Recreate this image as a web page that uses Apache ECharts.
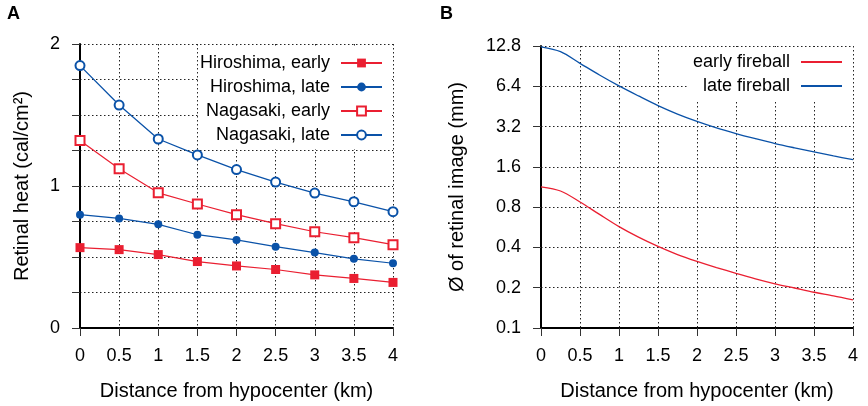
<!DOCTYPE html>
<html>
<head>
<meta charset="utf-8">
<script src="https://cdn.jsdelivr.net/npm/echarts@6/dist/echarts.min.js"></script>
<style>
html,body{margin:0;padding:0;background:#fff;}
#c{width:868px;height:406px;}
</style>
</head>
<body>
<div id="c"></div>
<script>
// Panel A data
const xA = [0, 0.5, 1, 1.5, 2, 2.5, 3, 3.5, 4];
const hiroshimaEarly = [0.566, 0.552, 0.517, 0.468, 0.437, 0.412, 0.374, 0.349, 0.321];
const hiroshimaLate  = [0.798, 0.772, 0.730, 0.657, 0.620, 0.573, 0.531, 0.487, 0.456];
const nagasakiEarly  = [1.321, 1.121, 0.952, 0.873, 0.798, 0.735, 0.678, 0.636, 0.587];
const nagasakiLate   = [1.848, 1.570, 1.331, 1.219, 1.116, 1.028, 0.950, 0.889, 0.819];
const yTicksA = ['0', '1', '2'];

// Panel B data (mm)
const xB = [0, 0.25, 0.5, 0.75, 1, 1.25, 1.5, 1.75, 2, 2.25, 2.5, 2.75, 3, 3.25, 3.5, 3.75, 4];
const earlyFireball = [1.135, 1.056, 0.875, 0.706, 0.572, 0.477, 0.407, 0.354, 0.315, 0.283, 0.256, 0.233, 0.214, 0.199, 0.185, 0.174, 0.162];
const lateFireball  = [12.6, 11.6, 9.50, 7.77, 6.44, 5.42, 4.59, 3.97, 3.50, 3.13, 2.84, 2.60, 2.39, 2.22, 2.07, 1.93, 1.81];
const yTicksB = ['0.1', '0.2', '0.4', '0.8', '1.6', '3.2', '6.4', '12.8'];
const yBaseB = 0.1;

const RED = '#ea1f31';
const BLUE = '#0a52a8';
const FONT = 'Liberation Sans, Arial, Helvetica, sans-serif';

const pairs = (xs, ys) => xs.map((x, i) => [x, ys[i]]);
const log2Pairs = (xs, ys) => xs.map((x, i) => [x, Math.log2(ys[i] / yBaseB)]);

const splitLine = { show: true, lineStyle: { color: '#222', width: 1, type: [1.5, 2.5] } };
const axisLine = { show: true, onZero: false, lineStyle: { color: '#000', width: 2 } };
const axisTick = { show: true, inside: false, length: 8, lineStyle: { color: '#333', width: 1 } };
const labelStyle = { color: '#000', fontSize: 18, fontFamily: FONT };
const nameStyle = { color: '#000', fontSize: 20, fontFamily: FONT };

const chart = echarts.init(document.getElementById('c'), null, { renderer: 'canvas' });

const option = {
  animation: false,
  backgroundColor: '#fff',
  textStyle: { fontFamily: FONT },
  title: [
    { text: 'A', left: 7, top: 5, padding: 0, textStyle: { fontSize: 18, fontWeight: 'bold', color: '#000', fontFamily: FONT } },
    { text: 'B', left: 440, top: 5, padding: 0, textStyle: { fontSize: 18, fontWeight: 'bold', color: '#000', fontFamily: FONT } }
  ],
  grid: [
    { left: 80, top: 44, width: 313, height: 285 },
    { left: 541, top: 46, width: 312, height: 283 }
  ],
  xAxis: [
    {
      type: 'value', gridIndex: 0, min: 0, max: 4, interval: 0.5,
      name: 'Distance from hypocenter (km)', nameLocation: 'middle', nameGap: 53, nameTextStyle: nameStyle,
      axisLine, axisTick, splitLine, axisLabel: Object.assign({ margin: 19 }, labelStyle)
    },
    {
      type: 'value', gridIndex: 1, min: 0, max: 4, interval: 0.5,
      name: 'Distance from hypocenter (km)', nameLocation: 'middle', nameGap: 53, nameTextStyle: nameStyle,
      axisLine, axisTick, splitLine, axisLabel: Object.assign({ margin: 19 }, labelStyle)
    }
  ],
  yAxis: [
    {
      type: 'value', gridIndex: 0, min: 0, max: 2, interval: 0.25,
      name: 'Retinal heat (cal/cm²)', nameLocation: 'middle', nameGap: 48, nameTextStyle: nameStyle,
      axisLine, axisTick, splitLine,
      axisLabel: Object.assign({ margin: 20, formatter: v => (Math.abs(v - Math.round(v)) < 1e-9 ? yTicksA[Math.round(v)] : '') }, labelStyle)
    },
    {
      type: 'value', gridIndex: 1, min: 0, max: yTicksB.length - 1, interval: 1,
      name: 'Ø of retinal image (mm)', nameLocation: 'middle', nameGap: 74, nameTextStyle: nameStyle,
      axisLine, axisTick, splitLine,
      axisLabel: Object.assign({ margin: 20, formatter: v => yTicksB[Math.round(v)] }, labelStyle)
    }
  ],
  legend: [
    {
      data: ['Hiroshima, early', 'Hiroshima, late', 'Nagasaki, early', 'Nagasaki, late'],
      orient: 'vertical', align: 'right', right: 477, top: 47,
      padding: [7, 8, 5, 2], itemGap: 6, itemWidth: 41, itemHeight: 11,
      backgroundColor: '#fff', z: 5,
      textStyle: { color: '#000', fontSize: 18, fontFamily: FONT, padding: [0, 6, 0, 0] }
    },
    {
      data: ['early fireball', 'late fireball'],
      orient: 'vertical', align: 'right', right: 17, top: 47,
      padding: [6, 8, 6, 6], itemGap: 6, itemWidth: 41, itemHeight: 11,
      backgroundColor: '#fff', z: 5,
      itemStyle: { opacity: 0 },
      textStyle: { color: '#000', fontSize: 18, fontFamily: FONT, padding: [0, 6, 0, 0] }
    }
  ],
  series: [
    {
      name: 'Hiroshima, early', type: 'line', xAxisIndex: 0, yAxisIndex: 0,
      data: pairs(xA, hiroshimaEarly), symbol: 'rect', symbolSize: 9,
      lineStyle: { color: RED, width: 1.2 }, itemStyle: { color: RED }, z: 3
    },
    {
      name: 'Hiroshima, late', type: 'line', xAxisIndex: 0, yAxisIndex: 0,
      data: pairs(xA, hiroshimaLate), symbol: 'circle', symbolSize: 8,
      lineStyle: { color: BLUE, width: 1.2 }, itemStyle: { color: BLUE }, z: 3
    },
    {
      name: 'Nagasaki, early', type: 'line', xAxisIndex: 0, yAxisIndex: 0,
      data: pairs(xA, nagasakiEarly), symbol: 'emptyRect', symbolSize: 9,
      lineStyle: { color: RED, width: 1.2 }, itemStyle: { color: RED, borderWidth: 1.3 }, z: 3
    },
    {
      name: 'Nagasaki, late', type: 'line', xAxisIndex: 0, yAxisIndex: 0,
      data: pairs(xA, nagasakiLate), symbol: 'emptyCircle', symbolSize: 9,
      lineStyle: { color: BLUE, width: 1.3 }, itemStyle: { color: BLUE, borderWidth: 1.3 }, z: 3
    },
    {
      name: 'early fireball', type: 'line', xAxisIndex: 1, yAxisIndex: 1,
      data: log2Pairs(xB, earlyFireball), symbol: 'none', smooth: 0.3,
      lineStyle: { color: RED, width: 1.3 }, itemStyle: { color: RED }, z: 3
    },
    {
      name: 'late fireball', type: 'line', xAxisIndex: 1, yAxisIndex: 1,
      data: log2Pairs(xB, lateFireball), symbol: 'none', smooth: 0.3,
      lineStyle: { color: BLUE, width: 1.3 }, itemStyle: { color: BLUE }, z: 3
    }
  ]
};
chart.setOption(option);
</script>
</body>
</html>
